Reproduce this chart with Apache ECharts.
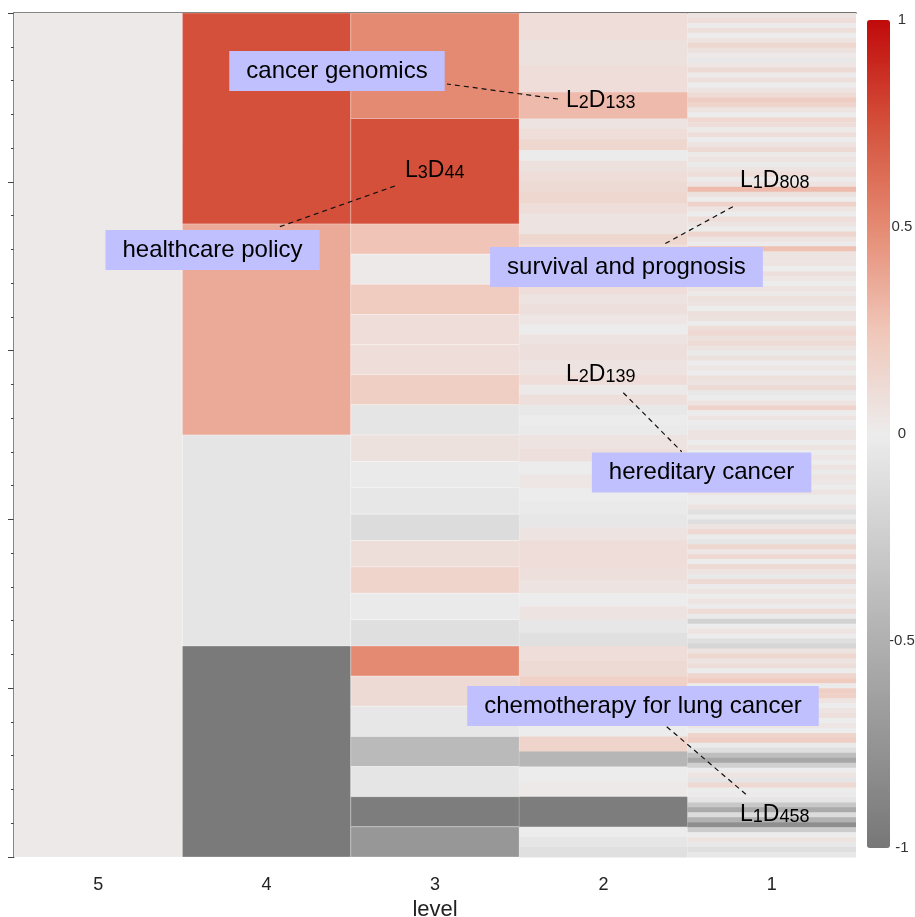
<!DOCTYPE html>
<html><head><meta charset="utf-8">
<script src="https://cdn.jsdelivr.net/npm/echarts@6/dist/echarts.min.js"></script>
<style>html,body{margin:0;padding:0;background:#fff;overflow:hidden}#c{width:915px;height:917px}</style>
</head><body><div id="c"></div>
<script>
// ---------------- data ----------------
const levels = ['5', '4', '3', '2', '1'];
const level5Values = [0.02];
const level4Values = [0.75, 0.37, -0.06, -0.97];
const level3Counts = [2, 7, 8, 7];            // children of each level-4 topic
const level3Values = [0.5, 0.75,
  0.26, 0.02, 0.22, 0.1, 0.1, 0.2, -0.06,
  0.07, -0.02, -0.04, -0.13, 0.09, 0.16, -0.02, -0.11,
  0.5, 0.12, -0.04, -0.42, -0.06, -0.95, -0.72];
const level2Values = [                          // grouped by level-3 parent
  [0.1, 0.07, 0.1, 0.3],
  [0.06, 0.1, 0.14, -0.01, 0.07, 0.1, 0.12, 0.14, 0.1, 0.06],
  [0.06, 0.14, 0.1], [0.05, 0.08], [0.1, 0.06, 0.08], [0.04, 0.0, 0.06],
  [0.08, 0.05], [0.1, 0.02, 0.08], [-0.03, 0.0, -0.02],
  [0.06, 0.08], [0.0, 0.04], [0.0, -0.02], [-0.04, 0.05], [0.1, 0.1],
  [0.08, 0.06], [0.0, 0.05], [-0.04, -0.1],
  [0.1, 0.12], [0.18, 0.12, 0.1], [0.04, 0.0], [0.16, -0.45], [0.0, 0.02],
  [-0.95], [0.0, -0.05, -0.1]
];
const level1Values = [
  0.06,0.1,0.01,0.09,0,0.06,0.14,0.07,0.02,-0.03,
  0.04,0.12,0.01,0.08,0,0.05,0.11,0.21,0.16,0.06,
  0,0.13,0.1,0.02,0.1,0,0.06,0.12,0.02,0.05,
  -0.02,0.06,0.1,0.01,0.06,0.3,0.07,0,0.17,0.05,
  0,0.1,0.05,0,0.15,0.05,0.01,0.27,0.05,0.06,
  0.05,0,0.08,0.04,0,0.06,0.02,0.07,0.05,0,
  0.08,0.07,0,0.1,0.13,0.07,0.11,0.05,-0.02,0.07,
  0,0.04,0,0.07,0.05,0.12,-0.03,0,0.05,0.16,
  0,0.05,0,-0.02,0.05,0.06,0,0.05,0,0.04,
  0,0.06,-0.02,0.05,0.03,0,0.06,0,0,0.05,
  -0.1,0,-0.12,0.05,0.13,-0.01,-0.06,0.14,0.04,0.13,
  0,0.12,0.05,-0.03,0.12,0.01,0.06,0,0.06,0,
  0.11,-0.02,-0.22,0,0.06,0,-0.11,-0.18,0.06,0.14,
  0.05,0.09,0,0.15,0.22,-0.01,0.2,0.18,0.06,0,
  0.05,0.08,0,0.04,0,0.16,0.19,-0.02,-0.11,-0.38,
  -0.58,-0.23,0,0.05,-0.06,0.13,0,0.01,-0.06,-0.3,
  -0.55,-0.13,-0.48,-0.8,-0.27,0,0.06,-0.03,-0.11,-0.03
];
const colorStops = ['#777777','#949494','#b0b0b0','#cecece','#ececec','#f0c6b9','#e58a72','#d4503a','#c00a0a'];

// annotations (data coordinates: x in level-column units from column "5", y in 0..100)
const boxTexts = ['cancer genomics', 'healthcare policy', 'survival and prognosis', 'hereditary cancer', 'chemotherapy for lung cancer'];
const boxX = [1.418, 0.679, 3.137, 3.583, 3.235];
const boxY = [6.87, 28.08, 30.09, 54.44, 82.11];
const nodeLevel = [2, 3, 1, 2, 1];
const nodeIndex = [133, 44, 808, 139, 458];
const nodeX = [2.778, 1.822, 3.811, 2.778, 3.811];
const nodeY = [9.0, 17.3, 18.48, 41.43, 93.57];
const leaderFrom = [[2.730, 10.19], [1.762, 20.5], [3.769, 22.95], [3.118, 44.99], [3.376, 84.56]];
const leaderTo = [[2.071, 8.41], [1.056, 25.47], [3.360, 27.4], [3.465, 51.98], [3.851, 92.65]];

// ---------------- build cells from hierarchy ----------------
function splitSpan(span, n) {
  const out = [], h = (span[1] - span[0]) / n;
  for (let i = 0; i < n; i++) out.push([span[0] + i * h, span[0] + (i + 1) * h]);
  return out;
}
const cells = [];
const span5 = [[0, 100]];
cells.push([0, 0, 100, level5Values[0]]);
const span4 = splitSpan(span5[0], level4Values.length);
span4.forEach((s, i) => cells.push([1, s[0], s[1], level4Values[i]]));
const span3 = [];
level3Counts.forEach((n, i) => splitSpan(span4[i], n).forEach(s => span3.push(s)));
span3.forEach((s, i) => cells.push([2, s[0], s[1], level3Values[i]]));
level2Values.forEach((grp, j) => {
  splitSpan(span3[j], grp.length).forEach((s, k) => cells.push([3, s[0], s[1], grp[k]]));
});
splitSpan([0, 100], level1Values.length).forEach((s, i) => cells.push([4, s[0], s[1], level1Values[i]]));

const FONT = '"Liberation Sans", Arial, Helvetica, sans-serif';
const chart = echarts.init(document.getElementById('c'));

function xPix(api, v, y) {
  const c0 = api.coord([0, y]);
  const bw = api.size([1, 0])[0];
  return c0[0] + v * bw;
}

chart.setOption({
  animation: false,
  backgroundColor: '#ffffff',
  grid: [
    { left: 14, width: 842, top: 13, height: 844, containLabel: false, outerBoundsMode: 'none' },
    { left: 867, width: 23, top: 20, height: 828, containLabel: false, outerBoundsMode: 'none' }
  ],
  xAxis: [{
    type: 'category', data: levels, gridIndex: 0,
    axisLine: { lineStyle: { color: '#444', width: 1.5 } },
    axisTick: { alignWithLabel: true, length: 5, lineStyle: { color: '#444' } },
    axisLabel: { fontSize: 18, color: '#222', margin: 19, fontFamily: FONT },
    name: 'level', nameLocation: 'middle', nameGap: 35,
    nameTextStyle: { fontSize: 22, color: '#222', fontFamily: FONT }
  }, {
    type: 'value', gridIndex: 1, show: false, min: 0, max: 1
  }],
  yAxis: [{
    type: 'value', gridIndex: 0, min: 0, max: 100, interval: 20, inverse: true,
    axisLine: { show: true, lineStyle: { color: '#444', width: 1.5 } },
    axisTick: { show: true, length: 6, lineStyle: { color: '#444' } },
    minorTick: { show: true, splitNumber: 5, length: 3, lineStyle: { color: '#444' } },
    axisLabel: { show: false },
    splitLine: { show: false }
  }, {
    type: 'value', gridIndex: 1, min: -1, max: 1, interval: 0.5, position: 'right',
    axisLine: { show: false },
    axisTick: { show: false },
    axisLabel: { fontSize: 15, color: '#333', margin: 12, align: 'center', fontFamily: FONT },
    splitLine: { show: false }
  }],
  visualMap: {
    type: 'continuous', min: -1, max: 1, dimension: 3, seriesIndex: 0,
    inRange: { color: colorStops },
    calculable: false, hoverLink: false,
    left: 867, top: 20, itemWidth: 23, itemHeight: 828, padding: 0,
    textStyle: { color: 'transparent' }, text: null, z: 1
  },
  series: [{
    type: 'custom', xAxisIndex: 0, yAxisIndex: 0,
    encode: { x: 0, y: [1, 2] },
    data: cells,
    renderItem: function (params, api) {
      const col = api.value(0);
      const p0 = api.coord([col, api.value(1)]);
      const p1 = api.coord([col, api.value(2)]);
      const w = api.size([1, 0])[0];
      const top = Math.min(p0[1], p1[1]);
      const h = Math.abs(p1[1] - p0[1]);
      const framed = col <= 2;
      return {
        type: 'rect',
        shape: { x: p0[0] - w / 2, y: top, width: w, height: framed ? h : h + 0.6 },
        style: {
          fill: api.visual('color'),
          stroke: framed ? 'rgba(255,255,255,0.35)' : null,
          lineWidth: framed ? 0.8 : 0
        }
      };
    }
  }, {
    type: 'custom', xAxisIndex: 0, yAxisIndex: 0, z: 5,
    data: leaderFrom.map((f, i) => [i]),
    renderItem: function (params, api) {
      const i = params.dataIndex;
      const a = leaderFrom[i], b = leaderTo[i];
      const pa = api.coord([0, a[1]]), pb = api.coord([0, b[1]]);
      return {
        type: 'line',
        shape: { x1: xPix(api, a[0], a[1]), y1: pa[1], x2: xPix(api, b[0], b[1]), y2: pb[1] },
        style: { stroke: '#111', lineWidth: 1.2, lineDash: [5, 4] }
      };
    }
  }, {
    type: 'custom', xAxisIndex: 0, yAxisIndex: 0, z: 6,
    data: nodeX.map((x, i) => [i]),
    renderItem: function (params, api) {
      const i = params.dataIndex;
      const p = api.coord([0, nodeY[i]]);
      return {
        type: 'text',
        x: xPix(api, nodeX[i], nodeY[i]), y: p[1],
        style: {
          text: '{m|L}{s|' + nodeLevel[i] + '}{m|D}{s|' + nodeIndex[i] + '}',
          align: 'left', verticalAlign: 'top',
          rich: {
            m: { fontSize: 23, lineHeight: 23, fontFamily: FONT, fill: '#000', color: '#000', verticalAlign: 'top', padding: [0, 0, 8, 0] },
            s: { fontSize: 18, lineHeight: 18, fontFamily: FONT, fill: '#000', color: '#000', verticalAlign: 'bottom' }
          }
        }
      };
    }
  }, {
    type: 'custom', xAxisIndex: 0, yAxisIndex: 0, z: 7,
    data: boxTexts.map((t, i) => [i]),
    renderItem: function (params, api) {
      const i = params.dataIndex;
      const p = api.coord([0, boxY[i]]);
      return {
        type: 'text',
        x: xPix(api, boxX[i], boxY[i]), y: p[1],
        style: {
          text: boxTexts[i], fontSize: 24, fontFamily: FONT, fill: '#000',
          align: 'center', verticalAlign: 'middle',
          backgroundColor: '#c0c0fe', padding: [8, 17, 8, 17]
        }
      };
    }
  }]
});
</script></body></html>
